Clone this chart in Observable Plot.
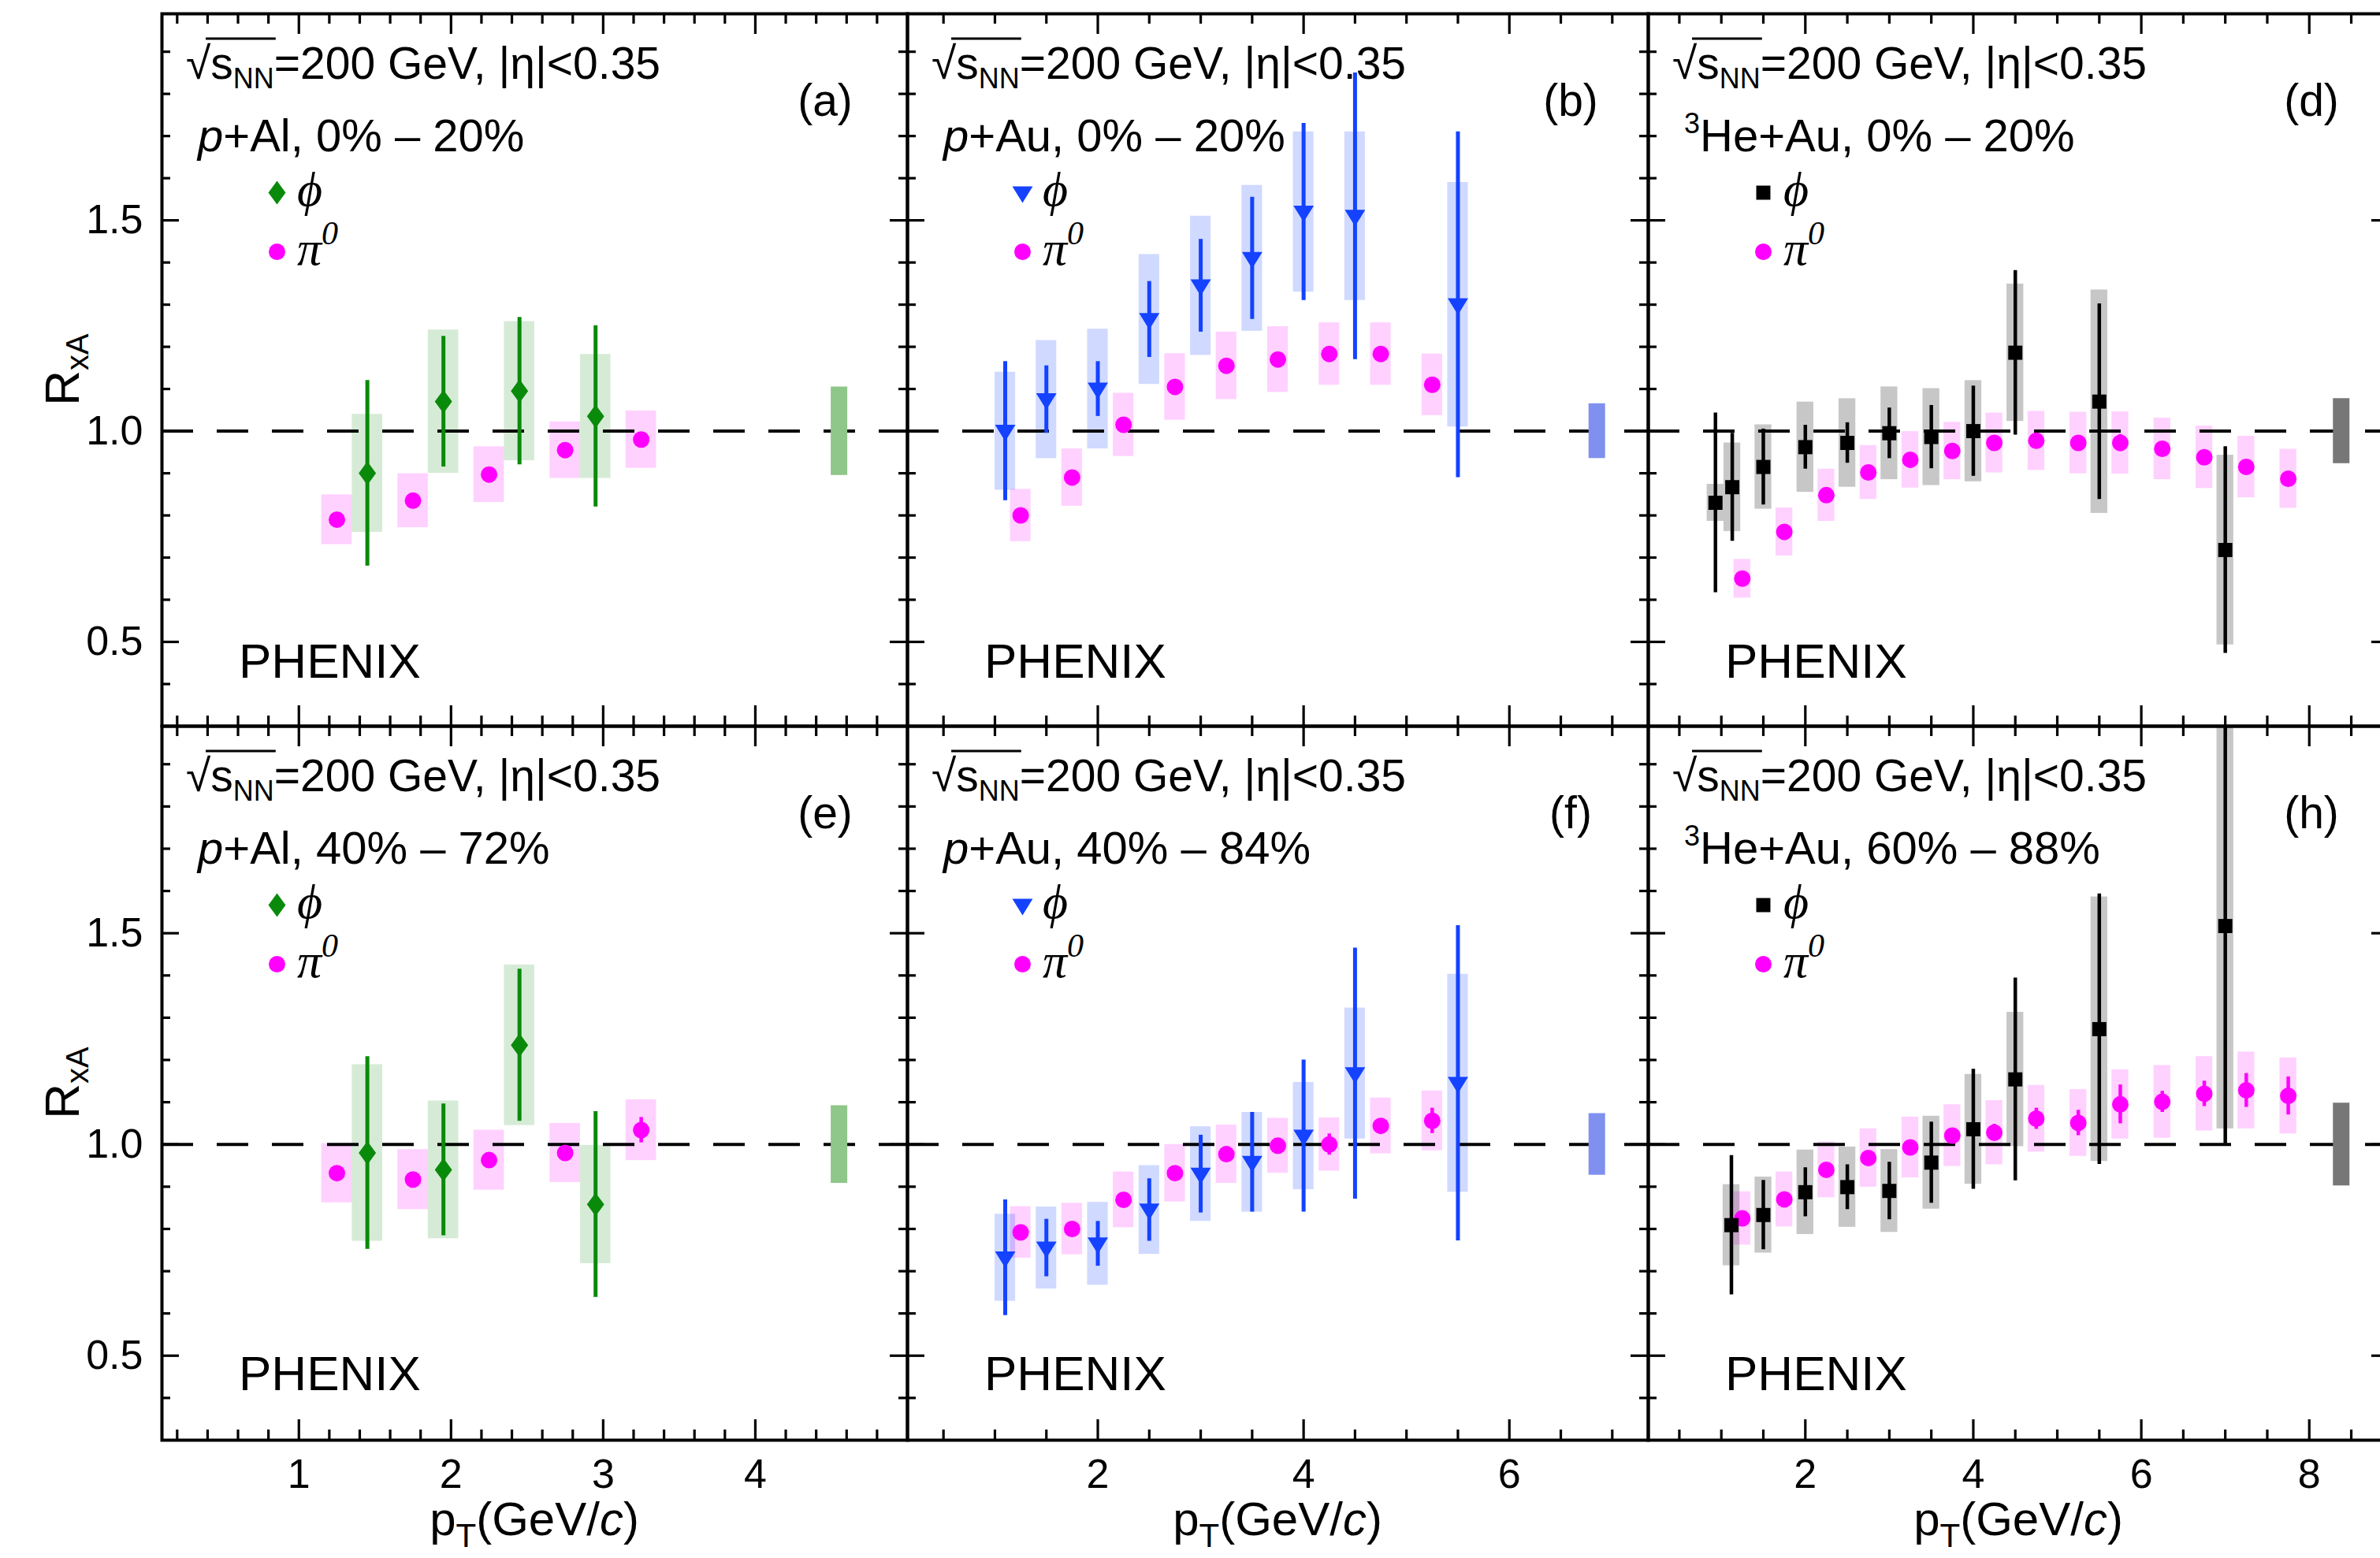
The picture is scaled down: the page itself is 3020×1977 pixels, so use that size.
<!DOCTYPE html>
<html>
<head>
<meta charset="utf-8">
<script src="https://cdn.jsdelivr.net/npm/d3@7"></script>
<script src="https://cdn.jsdelivr.net/npm/@observablehq/plot@0.6"></script>
<style>
  html, body { margin: 0; padding: 0; background: #fff; overflow: hidden; }
  #figure { position: relative; width: 3020px; height: 1977px; overflow: hidden; background: #fff; }
  #figure svg { position: absolute; }
</style>
</head>
<body>
<div id="figure"></div>
<script>
// ---------------- data: R_xA of phi and pi0 vs pT ----------------
// pT bin centres (GeV/c)
const alPhiPt = [1.45, 1.95, 2.45, 2.95];
const alPiPt = [1.25, 1.75, 2.25, 2.75, 3.25];
const auPhiPt = [1.1, 1.5, 2.0, 2.5, 3.0, 3.5, 4.0, 4.5, 5.5];
const auPiPt = [1.25, 1.75, 2.25, 2.75, 3.25, 3.75, 4.25, 4.75, 5.25];
const hePhiPtCentral = [0.93, 1.13, 1.5, 2.0, 2.5, 3.0, 3.5, 4.0, 4.5, 5.5, 7.0];
const hePhiPtPeripheral = [1.12, 1.5, 2.0, 2.5, 3.0, 3.5, 4.0, 4.5, 5.5, 7.0];
const hePiPt = [1.25, 1.75, 2.25, 2.75, 3.25, 3.75, 4.25, 4.75, 5.25, 5.75, 6.25, 6.75, 7.25, 7.75];

// (a) p+Al 0%-20%
const aPhiR    = [0.90, 1.07, 1.095, 1.035];
const aPhiStat = [0.22, 0.155, 0.175, 0.215];
const aPhiSys  = [0.14, 0.17, 0.165, 0.147];
const aPiR     = [0.79, 0.835, 0.897, 0.955, 0.98];
const aPiStat  = [0.01, 0.01, 0.01, 0.01, 0.01];
const aPiSys   = [0.059, 0.064, 0.066, 0.067, 0.068];

// (b) p+Au 0%-20%
const bPhiR    = [1.0, 1.075, 1.10, 1.265, 1.345, 1.41, 1.52, 1.51, 1.30];
const bPhiStat = [0.165, 0.08, 0.065, 0.09, 0.11, 0.145, 0.21, 0.34, 0.41];
const bPhiSys  = [0.14, 0.14, 0.142, 0.154, 0.165, 0.173, 0.19, 0.2, 0.29];
const bPiR     = [0.80, 0.89, 1.015, 1.105, 1.155, 1.17, 1.183, 1.183, 1.11];
const bPiStat  = [0.01, 0.01, 0.01, 0.01, 0.01, 0.01, 0.01, 0.01, 0.01];
const bPiSys   = [0.062, 0.068, 0.075, 0.079, 0.08, 0.078, 0.074, 0.074, 0.073];

// (d) 3He+Au 0%-20%
const dPhiR    = [0.83, 0.867, 0.915, 0.962, 0.972, 0.995, 0.986, 1.0, 1.186, 1.07, 0.718];
const dPhiStat = [0.213, 0.128, 0.09, 0.052, 0.048, 0.06, 0.075, 0.107, 0.195, 0.232, 0.245];
const dPhiSys  = [0.044, 0.105, 0.1, 0.107, 0.105, 0.11, 0.115, 0.12, 0.163, 0.265, 0.225];
const dPiR     = [0.65, 0.761, 0.848, 0.902, 0.932, 0.953, 0.972, 0.977, 0.972, 0.972, 0.958, 0.938, 0.915, 0.887];
const dPiStat  = [0.01, 0.01, 0.01, 0.01, 0.01, 0.01, 0.01, 0.01, 0.01, 0.02, 0.01, 0.01, 0.01, 0.01];
const dPiSys   = [0.046, 0.057, 0.062, 0.064, 0.067, 0.068, 0.071, 0.07, 0.073, 0.074, 0.073, 0.074, 0.073, 0.07];

// (e) p+Al 40%-72%
const ePhiR    = [0.98, 0.94, 1.235, 0.858];
const ePhiStat = [0.228, 0.156, 0.18, 0.22];
const ePhiSys  = [0.209, 0.163, 0.19, 0.14];
const ePiR     = [0.932, 0.917, 0.963, 0.98, 1.034];
const ePiStat  = [0.01, 0.01, 0.01, 0.015, 0.03];
const ePiSys   = [0.07, 0.071, 0.071, 0.07, 0.072];

// (f) p+Au 40%-84%
const fPhiR    = [0.732, 0.755, 0.765, 0.845, 0.93, 0.958, 1.02, 1.168, 1.145];
const fPhiStat = [0.137, 0.068, 0.053, 0.074, 0.092, 0.118, 0.18, 0.297, 0.373];
const fPhiSys  = [0.103, 0.097, 0.098, 0.105, 0.112, 0.118, 0.127, 0.155, 0.258];
const fPiR     = [0.792, 0.80, 0.869, 0.932, 0.977, 0.997, 1.0, 1.044, 1.056];
const fPiStat  = [0.01, 0.01, 0.01, 0.01, 0.01, 0.01, 0.025, 0.015, 0.03];
const fPiSys   = [0.061, 0.061, 0.066, 0.068, 0.069, 0.065, 0.063, 0.066, 0.071];

// (h) 3He+Au 60%-88%
const hPhiR    = [0.809, 0.833, 0.887, 0.899, 0.89, 0.957, 1.036, 1.154, 1.273, 1.517];
const hPhiStat = [0.165, 0.082, 0.058, 0.053, 0.068, 0.096, 0.142, 0.24, 0.32, 0.515];
const hPhiSys  = [0.096, 0.09, 0.1, 0.095, 0.098, 0.11, 0.13, 0.159, 0.313, 0.48];
const hPiR     = [0.825, 0.870, 0.940, 0.968, 0.993, 1.021, 1.028, 1.061, 1.051, 1.095, 1.101, 1.120, 1.128, 1.115];
const hPiStat  = [0.01, 0.01, 0.01, 0.01, 0.01, 0.01, 0.02, 0.025, 0.03, 0.046, 0.025, 0.03, 0.04, 0.045];
const hPiSys   = [0.063, 0.065, 0.066, 0.069, 0.072, 0.073, 0.076, 0.079, 0.079, 0.082, 0.086, 0.088, 0.091, 0.09];

// global (normalisation) uncertainties, one per panel
const globalSys = { a: 0.105, b: 0.065, d: 0.077, e: 0.092, f: 0.073, h: 0.098 };

// axis ticks
const yMajorTicks = [0.5, 1.0, 1.5];
const yTickLabels = ["0.5", "1.0", "1.5"];
const alTicks = [1, 2, 3, 4];
const auTicks = [2, 4, 6];
const heTicks = [2, 4, 6, 8];

// ---------------- styling / layout ----------------
const SANS = "'Liberation Sans', Arial, Helvetica, sans-serif";
const SERIF = "'Liberation Serif', 'DejaVu Serif', 'Times New Roman', serif";
const PI_COLOR = "#ff00ff";
const BOX_HALF = 0.1;                 // half width of systematic boxes (GeV/c)
const COL_X = [205, 1151, 2091];      // frame left edges
const COL_W = [946, 940, 940];
const ROW_Y = [17, 921];
const ROW_H = [904, 906];
const Y_DOMAIN = [0.3, 1.99];

// marker shapes (scaled from Plot's symbol size; r = 9 gives k = 1)
const tallDiamond = { draw(ctx, size) {
  const k = Math.sqrt(size) / 16;
  ctx.moveTo(0, -15 * k); ctx.lineTo(11 * k, 0); ctx.lineTo(0, 15 * k); ctx.lineTo(-11 * k, 0); ctx.closePath();
}};
const triangleDown = { draw(ctx, size) {
  const k = Math.sqrt(size) / 16;
  ctx.moveTo(-13 * k, -8 * k); ctx.lineTo(13 * k, -8 * k); ctx.lineTo(0, 13 * k); ctx.closePath();
}};
const squareMark = { draw(ctx, size) {
  const h = Math.sqrt(size) / 16 * 9;
  ctx.rect(-h, -h, 2 * h, 2 * h);
}};

const minorOf = (step, n, isMajor) => d3.range(1, n).map(i => +(i * step).toFixed(2)).filter(v => !isMajor(v));

const systems = {
  pAl: {
    xDomain: [0.1, 5.0], xMajor: alTicks, xMinor: minorOf(0.2, 25, v => Number.isInteger(v)),
    normPt: 4.55, color: "#0a8a0a", boxOpacity: 0.17, normColor: "#8fc689", barWidth: 5,
    symbol: tallDiamond, name: [{ text: "p", italic: true }, { text: "+Al, " }]
  },
  pAu: {
    xDomain: [0.15, 7.35], xMajor: auTicks, xMinor: minorOf(0.5, 15, v => v % 2 === 0),
    normPt: 6.85, color: "#1442ff", boxOpacity: 0.2, normColor: "#8090ef", barWidth: 5,
    symbol: triangleDown, name: [{ text: "p", italic: true }, { text: "+Au, " }]
  },
  heAu: {
    xDomain: [0.13, 8.95], xMajor: heTicks, xMinor: minorOf(0.5, 18, v => v % 2 === 0),
    normPt: 8.38, color: "#000000", boxOpacity: 0.22, normColor: "#777777", barWidth: 4.5,
    symbol: squareMark, name: [{ text: "3", size: 36, dy: -23 }, { text: "He+Au, ", dy: 23 }]
  }
};
const yMinorTicks = minorOf(0.1, 20, v => yMajorTicks.includes(v) || v < 0.35);

const panels = [
  { id: "a", tag: "(a)", row: 0, col: 0, system: "pAl", cent: "0% \u2013 20%",
    phiPt: alPhiPt, phiR: aPhiR, phiStat: aPhiStat, phiSys: aPhiSys, piPt: alPiPt, piR: aPiR, piStat: aPiStat, piSys: aPiSys },
  { id: "b", tag: "(b)", row: 0, col: 1, system: "pAu", cent: "0% \u2013 20%",
    phiPt: auPhiPt, phiR: bPhiR, phiStat: bPhiStat, phiSys: bPhiSys, piPt: auPiPt, piR: bPiR, piStat: bPiStat, piSys: bPiSys },
  { id: "d", tag: "(d)", row: 0, col: 2, system: "heAu", cent: "0% \u2013 20%",
    phiPt: hePhiPtCentral, phiR: dPhiR, phiStat: dPhiStat, phiSys: dPhiSys, piPt: hePiPt, piR: dPiR, piStat: dPiStat, piSys: dPiSys },
  { id: "e", tag: "(e)", row: 1, col: 0, system: "pAl", cent: "40% \u2013 72%",
    phiPt: alPhiPt, phiR: ePhiR, phiStat: ePhiStat, phiSys: ePhiSys, piPt: alPiPt, piR: ePiR, piStat: ePiStat, piSys: ePiSys },
  { id: "f", tag: "(f)", row: 1, col: 1, system: "pAu", cent: "40% \u2013 84%",
    phiPt: auPhiPt, phiR: fPhiR, phiStat: fPhiStat, phiSys: fPhiSys, piPt: auPiPt, piR: fPiR, piStat: fPiStat, piSys: fPiSys },
  { id: "h", tag: "(h)", row: 1, col: 2, system: "heAu", cent: "60% \u2013 88%",
    phiPt: hePhiPtPeripheral, phiR: hPhiR, phiStat: hPhiStat, phiSys: hPhiSys, piPt: hePiPt, piR: hPiR, piStat: hPiStat, piSys: hPiSys }
];

// ---------------- helpers ----------------
function addText(svg, { x, y, size, anchor = "start", family = SANS, transform }, parts) {
  const t = d3.select(svg).append("text")
    .attr("x", x).attr("y", y)
    .attr("font-family", family).attr("font-size", size)
    .attr("text-anchor", anchor).attr("fill", "black");
  if (transform) t.attr("transform", transform);
  for (const p of parts) {
    const s = t.append("tspan").text(p.text);
    if (p.size) s.attr("font-size", p.size);
    if (p.italic) s.attr("font-style", "italic");
    if (p.family) s.attr("font-family", p.family);
    if (p.dy) s.attr("dy", p.dy);
  }
  return t.node();
}

function tickRules(sys, W, H) {
  const st = { stroke: "black", strokeWidth: 3.2 };
  return [
    Plot.ruleX(sys.xMajor, { x: d => d, insetTop: H - 26, ...st }),
    Plot.ruleX(sys.xMajor, { x: d => d, insetBottom: H - 26, ...st }),
    Plot.ruleX(sys.xMinor, { x: d => d, insetTop: H - 13, ...st }),
    Plot.ruleX(sys.xMinor, { x: d => d, insetBottom: H - 13, ...st }),
    Plot.ruleY(yMajorTicks, { y: d => d, insetRight: W - 22, ...st }),
    Plot.ruleY(yMajorTicks, { y: d => d, insetLeft: W - 22, ...st }),
    Plot.ruleY(yMinorTicks, { y: d => d, insetRight: W - 11, ...st }),
    Plot.ruleY(yMinorTicks, { y: d => d, insetLeft: W - 11, ...st })
  ];
}

// ---------------- draw ----------------
const figure = document.getElementById("figure");

for (const p of panels) {
  const sys = systems[p.system];
  const W = COL_W[p.col], H = ROW_H[p.row];
  const mL = p.col === 0 ? COL_X[0] : 0;
  const mB = p.row === 1 ? 150 : 0;
  const phi = p.phiPt.map((x, i) => ({ x, r: p.phiR[i], stat: p.phiStat[i], sys: p.phiSys[i] }));
  const pi = p.piPt.map((x, i) => ({ x, r: p.piR[i], stat: p.piStat[i], sys: p.piSys[i] }));
  const norm = [{ x: sys.normPt, sys: globalSys[p.id] }];

  const marks = [
    // systematic boxes
    Plot.rect(pi, { x1: d => d.x - BOX_HALF, x2: d => d.x + BOX_HALF, y1: d => d.r - d.sys, y2: d => d.r + d.sys,
      fill: PI_COLOR, fillOpacity: 0.18, clip: true }),
    Plot.rect(phi, { x1: d => d.x - BOX_HALF, x2: d => d.x + BOX_HALF, y1: d => d.r - d.sys, y2: d => d.r + d.sys,
      fill: sys.color, fillOpacity: sys.boxOpacity, clip: true }),
    // unity reference
    Plot.ruleY([1], { stroke: "black", strokeWidth: 4, strokeDasharray: "40,30" }),
    // global normalisation uncertainty
    Plot.ruleX(norm, { x: "x", y1: d => 1 - d.sys, y2: d => 1 + d.sys, stroke: sys.normColor, strokeWidth: 21 }),
    // statistical error bars
    Plot.ruleX(pi, { x: "x", y1: d => d.r - d.stat, y2: d => d.r + d.stat, stroke: PI_COLOR, strokeWidth: 4.5, clip: true }),
    Plot.ruleX(phi, { x: "x", y1: d => d.r - d.stat, y2: d => d.r + d.stat, stroke: sys.color, strokeWidth: sys.barWidth, clip: true }),
    // points
    Plot.dot(pi, { x: "x", y: "r", r: 10.5, fill: PI_COLOR, symbol: "circle" }),
    Plot.dot(phi, { x: "x", y: "r", r: 9, fill: sys.color, symbol: sys.symbol }),
    // legend swatches
    Plot.dot([0], { frameAnchor: "top-left", dx: 146, dy: 227, r: 9, fill: sys.color, symbol: sys.symbol }),
    Plot.dot([0], { frameAnchor: "top-left", dx: 146, dy: 302, r: 10.5, fill: PI_COLOR, symbol: "circle" }),
    ...tickRules(sys, W, H),
    Plot.frame({ stroke: "black", strokeWidth: 4 })
  ];
  if (p.row === 1) {
    marks.push(Plot.axisX({ ticks: sys.xMajor, tickFormat: d => String(d), tickSize: 0, tickPadding: 24,
      fontSize: 52, fontFamily: SANS, label: null }));
  }
  if (p.col === 0) {
    marks.push(Plot.axisY({ ticks: yMajorTicks, tickFormat: d => yTickLabels[yMajorTicks.indexOf(d)],
      tickSize: 0, tickPadding: 24, fontSize: 52, fontFamily: SANS, label: null }));
  }

  const svg = Plot.plot({
    width: mL + W, height: H + mB,
    marginLeft: mL, marginRight: 0, marginTop: 0, marginBottom: mB,
    x: { domain: sys.xDomain, ...(p.row === 1 ? {} : { axis: null }) },
    y: { domain: Y_DOMAIN, ...(p.col === 0 ? {} : { axis: null }) },
    style: { background: "transparent", overflow: "visible", maxWidth: "none", color: "black", fontFamily: SANS },
    marks
  });
  svg.style.left = (COL_X[p.col] - mL) + "px";
  svg.style.top = ROW_Y[p.row] + "px";
  figure.appendChild(svg);

  const fx = mL;
  // collision energy and acceptance, with radical over s_NN
  const hdrY = 83;
  const hdr = addText(svg, { x: fx + 31, y: hdrY, size: 57 }, [
    { text: "\u221A" }, { text: "s" }, { text: "NN", size: 36, dy: 12 }, { text: "=200 GeV, |\u03B7|<0.35", dy: -12 }
  ]);
  const r0 = hdr.getExtentOfChar(0), r3 = hdr.getExtentOfChar(3);
  d3.select(svg).append("line")
    .attr("x1", r0.x + r0.width * 0.8).attr("x2", r3.x + r3.width + 2)
    .attr("y1", hdrY - 51).attr("y2", hdrY - 51)
    .attr("stroke", "black").attr("stroke-width", 3);

  // collision system and centrality
  addText(svg, { x: fx + 46, y: 175, size: 58 }, [...sys.name.map(d => ({ ...d })), { text: p.cent }]);

  // legend labels
  addText(svg, { x: fx + 172, y: 244, size: 62, family: SERIF }, [{ text: "\u03D5", italic: true }]);
  addText(svg, { x: fx + 172, y: 319, size: 62, family: SERIF }, [
    { text: "\u03C0", italic: true }, { text: "0", italic: true, size: 42, dy: -26 }
  ]);

  // panel tag and experiment
  addText(svg, { x: fx + 842, y: 130, size: 57, anchor: "middle" }, [{ text: p.tag }]);
  addText(svg, { x: fx + 98, y: 843, size: 62 }, [{ text: "PHENIX" }]);

  // axis titles
  if (p.col === 0) {
    addText(svg, { x: 0, y: 0, size: 62, anchor: "middle", transform: `translate(100,${H / 2}) rotate(-90)` }, [
      { text: "R" }, { text: "xA", size: 40, dy: 12 }
    ]);
  }
  if (p.row === 1) {
    addText(svg, { x: fx + W / 2, y: H + 121, size: 60, anchor: "middle" }, [
      { text: "p" }, { text: "T", size: 42, dy: 15 }, { text: "(GeV/", dy: -15 }, { text: "c", italic: true }, { text: ")" }
    ]);
  }
}
</script>
</body>
</html>
